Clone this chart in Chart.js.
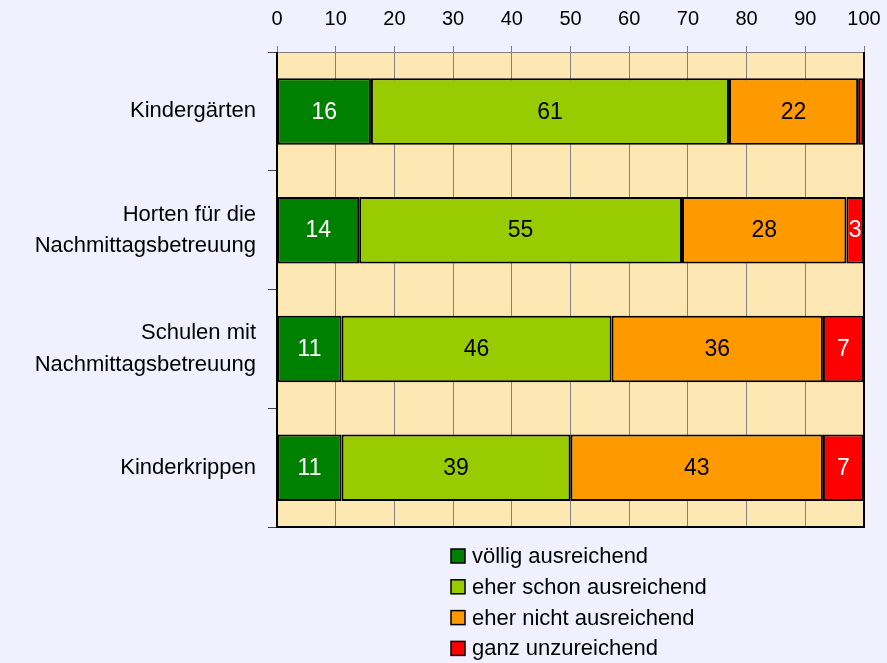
<!DOCTYPE html>
<html><head><meta charset="utf-8">
<script src="https://cdn.jsdelivr.net/npm/chart.js@4"></script>
<style>html,body{margin:0;padding:0;background:#F0F0FF;}#wrap{width:887px;height:663px;}</style>
</head><body><div id="wrap"><canvas id="c" width="887" height="663"></canvas></div>
<script>
const categories = ['Kindergärten', ['Horten für die', 'Nachmittagsbetreuung'], ['Schulen mit', 'Nachmittagsbetreuung'], 'Kinderkrippen'];
const seriesNames = ['völlig ausreichend', 'eher schon ausreichend', 'eher nicht ausreichend', 'ganz unzureichend'];
const voellig = [16, 14, 11, 11];
const eherSchon = [61, 55, 46, 39];
const eherNicht = [22, 28, 36, 43];
const ganzUnzureichend = [1, 3, 7, 7];
const seriesColors = ['#008000', '#99CC00', '#FF9900', '#FF0000'];
const labelColors = ['#FFFFFF', '#000000', '#000000', '#FFFFFF'];
const xTicks = [0, 10, 20, 30, 40, 50, 60, 70, 80, 90, 100];

const FONT = "'Liberation Sans', Arial, sans-serif";

const bgPlugin = {
  id: 'bg',
  beforeDraw(chart) {
    const {ctx, chartArea: a} = chart;
    ctx.save();
    ctx.fillStyle = '#F0F0FF';
    ctx.fillRect(0, 0, chart.width, chart.height);
    ctx.fillStyle = '#FDE8B4';
    ctx.fillRect(a.left, a.top, a.right - a.left, a.bottom - a.top);
    ctx.restore();
  },
  afterDatasetsDraw(chart) {
    const {ctx, chartArea: a} = chart;
    ctx.save();
    ctx.strokeStyle = '#000';
    ctx.lineWidth = 2;
    ctx.beginPath();
    ctx.moveTo(a.left, a.top);
    ctx.lineTo(a.left, a.bottom);
    ctx.lineTo(a.right, a.bottom);
    ctx.lineTo(a.right, a.top);
    ctx.stroke();
    ctx.font = '23px ' + FONT;
    ctx.textAlign = 'center';
    ctx.textBaseline = 'middle';
    chart.data.datasets.forEach((ds, di) => {
      const meta = chart.getDatasetMeta(di);
      meta.data.forEach((bar, i) => {
        const v = ds.data[i];
        if (v < 2) return;
        const x0 = Math.min(bar.x, bar.base), x1 = Math.max(bar.x, bar.base);
        ctx.fillStyle = labelColors[di];
        ctx.fillText(String(v), (x0 + x1) / 2, bar.y + 1);
      });
    });
    ctx.restore();
  },
  afterDraw(chart) {
    const ctx = chart.ctx;
    ctx.save();
    ctx.font = '22px ' + FONT;
    ctx.textBaseline = 'middle';
    ctx.textAlign = 'left';
    const x = 451, y0 = 556, step = 30.8, box = 14;
    seriesNames.forEach((name, i) => {
      const cy = y0 + i * step;
      ctx.fillStyle = seriesColors[i];
      ctx.fillRect(x, cy - box / 2, box, box);
      ctx.strokeStyle = '#000';
      ctx.lineWidth = 1.5;
      ctx.strokeRect(x, cy - box / 2, box, box);
      ctx.fillStyle = '#000';
      ctx.fillText(name, x + 21, cy + 1);
    });
    ctx.restore();
  }
};

const values = [voellig, eherSchon, eherNicht, ganzUnzureichend];

new Chart(document.getElementById('c'), {
  type: 'bar',
  data: {
    labels: categories,
    datasets: seriesNames.map((n, i) => ({
      label: n,
      data: values[i],
      backgroundColor: seriesColors[i],
      borderColor: '#000000',
      borderWidth: 2,
      borderSkipped: false,
      barPercentage: 0.56,
      categoryPercentage: 1.0
    }))
  },
  options: {
    indexAxis: 'y',
    responsive: false,
    animation: false,
    devicePixelRatio: 1,
    layout: { padding: { left: 0, right: 23, top: 0, bottom: 136 } },
    plugins: { legend: { display: false }, tooltip: { enabled: false } },
    scales: {
      x: {
        position: 'top',
        stacked: true,
        min: 0, max: 100,
        afterBuildTicks(scale) { scale.ticks = xTicks.map(v => ({ value: v })); },
        afterFit(scale) { scale.height = 52; scale.paddingRight = 0; scale.paddingLeft = 0; },
        ticks: { color: '#000', font: { family: FONT, size: 20 }, padding: 15, maxRotation: 0, autoSkip: false },
        grid: { color: '#808080', lineWidth: 1, tickLength: 6 },
        border: { color: '#808080', width: 1 }
      },
      y: {
        stacked: true,
        afterFit(scale) { scale.width = 277; },
        ticks: { color: '#000', font: { family: FONT, size: 22, lineHeight: 1.42 }, padding: 12 },
        grid: { drawOnChartArea: false, offset: true, color: '#404040', tickLength: 9 },
        border: { display: false }
      }
    }
  },
  plugins: [bgPlugin]
});
</script>
</body></html>
